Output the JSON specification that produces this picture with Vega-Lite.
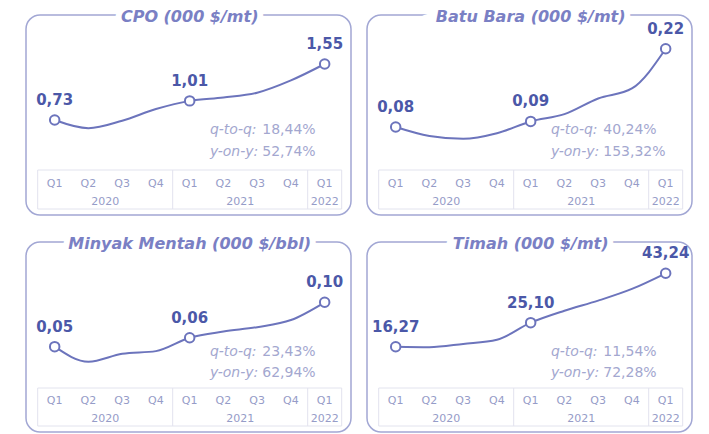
{
  "$schema": "https://vega.github.io/schema/vega-lite/v6.json",
  "background": "white",
  "padding": {"left": 25, "top": 8, "right": 0, "bottom": 0},
  "bounds": "flush",
  "columns": 2,
  "spacing": {"row": 27, "column": 16},
  "datasets": {
    "prices": [
      {"commodity": "CPO", "t": 0, "q": "Q1", "year": "2020", "v": 0.73},
      {"commodity": "CPO", "t": 1, "q": "Q2", "year": "2020", "v": 0.61},
      {"commodity": "CPO", "t": 2, "q": "Q3", "year": "2020", "v": 0.72},
      {"commodity": "CPO", "t": 3, "q": "Q4", "year": "2020", "v": 0.89},
      {"commodity": "CPO", "t": 4, "q": "Q1", "year": "2021", "v": 1.01},
      {"commodity": "CPO", "t": 5, "q": "Q2", "year": "2021", "v": 1.06},
      {"commodity": "CPO", "t": 6, "q": "Q3", "year": "2021", "v": 1.13},
      {"commodity": "CPO", "t": 7, "q": "Q4", "year": "2021", "v": 1.31},
      {"commodity": "CPO", "t": 8, "q": "Q1", "year": "2022", "v": 1.55},
      {"commodity": "Coal", "t": 0, "q": "Q1", "year": "2020", "v": 0.08},
      {"commodity": "Coal", "t": 1, "q": "Q2", "year": "2020", "v": 0.064},
      {"commodity": "Coal", "t": 2, "q": "Q3", "year": "2020", "v": 0.059},
      {"commodity": "Coal", "t": 3, "q": "Q4", "year": "2020", "v": 0.069},
      {"commodity": "Coal", "t": 4, "q": "Q1", "year": "2021", "v": 0.09},
      {"commodity": "Coal", "t": 5, "q": "Q2", "year": "2021", "v": 0.103},
      {"commodity": "Coal", "t": 6, "q": "Q3", "year": "2021", "v": 0.131},
      {"commodity": "Coal", "t": 7, "q": "Q4", "year": "2021", "v": 0.149},
      {"commodity": "Coal", "t": 8, "q": "Q1", "year": "2022", "v": 0.22},
      {"commodity": "Oil", "t": 0, "q": "Q1", "year": "2020", "v": 0.05},
      {"commodity": "Oil", "t": 1, "q": "Q2", "year": "2020", "v": 0.033},
      {"commodity": "Oil", "t": 2, "q": "Q3", "year": "2020", "v": 0.042},
      {"commodity": "Oil", "t": 3, "q": "Q4", "year": "2020", "v": 0.045},
      {"commodity": "Oil", "t": 4, "q": "Q1", "year": "2021", "v": 0.06},
      {"commodity": "Oil", "t": 5, "q": "Q2", "year": "2021", "v": 0.067},
      {"commodity": "Oil", "t": 6, "q": "Q3", "year": "2021", "v": 0.072},
      {"commodity": "Oil", "t": 7, "q": "Q4", "year": "2021", "v": 0.08},
      {"commodity": "Oil", "t": 8, "q": "Q1", "year": "2022", "v": 0.10},
      {"commodity": "Tin", "t": 0, "q": "Q1", "year": "2020", "v": 16.27},
      {"commodity": "Tin", "t": 1, "q": "Q2", "year": "2020", "v": 16.1},
      {"commodity": "Tin", "t": 2, "q": "Q3", "year": "2020", "v": 17.3},
      {"commodity": "Tin", "t": 3, "q": "Q4", "year": "2020", "v": 18.8},
      {"commodity": "Tin", "t": 4, "q": "Q1", "year": "2021", "v": 25.10},
      {"commodity": "Tin", "t": 5, "q": "Q2", "year": "2021", "v": 29.5},
      {"commodity": "Tin", "t": 6, "q": "Q3", "year": "2021", "v": 33.2},
      {"commodity": "Tin", "t": 7, "q": "Q4", "year": "2021", "v": 37.5},
      {"commodity": "Tin", "t": 8, "q": "Q1", "year": "2022", "v": 43.24}
    ],
    "growth": [
      {"commodity": "CPO", "metric": "q-to-q:", "pct": 0.1844},
      {"commodity": "CPO", "metric": "y-on-y:", "pct": 0.5274},
      {"commodity": "Coal", "metric": "q-to-q:", "pct": 0.4024},
      {"commodity": "Coal", "metric": "y-on-y:", "pct": 1.5332},
      {"commodity": "Oil", "metric": "q-to-q:", "pct": 0.2343},
      {"commodity": "Oil", "metric": "y-on-y:", "pct": 0.6294},
      {"commodity": "Tin", "metric": "q-to-q:", "pct": 0.1154},
      {"commodity": "Tin", "metric": "y-on-y:", "pct": 0.7228}
    ]
  },
  "concat": [
    {
      "width": 325, "height": 200,
      "resolve": {"scale": {"y": "independent"}},
      "layer": [
        {
          "data": {"name": "prices"},
          "transform": [{"filter": "datum.commodity === 'CPO'"}],
          "layer": [
            {"transform": [{"aggregate": [{"op": "min", "field": "t", "as": "first"}, {"op": "max", "field": "t", "as": "last"}]}],
             "mark": {"type": "rect", "filled": false, "stroke": "#e2e3ee", "strokeWidth": 1, "xOffset": -17, "x2Offset": 17},
             "encoding": {"x": {"field": "first", "type": "quantitative", "scale": {"domain": [-0.85, 8.78], "nice": false, "zero": false}, "axis": null}, "x2": {"field": "last"},
               "y": {"datum": 6, "type": "quantitative", "scale": {"domain": [0, 200], "nice": false, "zero": false}, "axis": null}, "y2": {"datum": 45}}},
            {"transform": [{"filter": "datum.q === 'Q1' && datum.t > 0"}],
             "mark": {"type": "rule", "color": "#e2e3ee", "strokeWidth": 1, "xOffset": -17},
             "encoding": {"x": {"field": "t", "type": "quantitative", "axis": null},
               "y": {"datum": 6, "type": "quantitative", "scale": {"domain": [0, 200], "nice": false, "zero": false}, "axis": null}, "y2": {"datum": 45}}},
            {"mark": {"type": "text", "fontSize": 11, "color": "#969cc8", "baseline": "middle"},
             "encoding": {"x": {"field": "t", "type": "quantitative", "axis": null},
               "y": {"datum": 31.5, "type": "quantitative", "scale": {"domain": [0, 200], "nice": false, "zero": false}, "axis": null}, "text": {"field": "q"}}},
            {"transform": [{"aggregate": [{"op": "mean", "field": "t", "as": "mid"}], "groupby": ["year"]}],
             "mark": {"type": "text", "fontSize": 11, "color": "#969cc8", "baseline": "middle"},
             "encoding": {"x": {"field": "mid", "type": "quantitative", "axis": null},
               "y": {"datum": 13.5, "type": "quantitative", "scale": {"domain": [0, 200], "nice": false, "zero": false}, "axis": null}, "text": {"field": "year"}}},
            {"transform": [{"aggregate": [{"op": "mean", "field": "t", "as": "mid"}]}],
             "mark": {"type": "text", "fontSize": 16, "fontWeight": "bold", "fontStyle": "italic", "baseline": "middle", "dy": 2, "fill": "white", "stroke": "white", "strokeWidth": 12},
             "encoding": {"x": {"field": "mid", "type": "quantitative", "axis": null},
               "y": {"datum": 200, "type": "quantitative", "scale": {"domain": [0, 200], "nice": false, "zero": false}, "axis": null}, "text": {"value": "  CPO (000 $/mt)  "}}},
            {"transform": [{"aggregate": [{"op": "mean", "field": "t", "as": "mid"}]}],
             "mark": {"type": "text", "fontSize": 16, "fontWeight": "bold", "fontStyle": "italic", "baseline": "middle", "dy": 2, "color": "#7a80c4"},
             "encoding": {"x": {"field": "mid", "type": "quantitative", "axis": null},
               "y": {"datum": 200, "type": "quantitative", "scale": {"domain": [0, 200], "nice": false, "zero": false}, "axis": null}, "text": {"value": "CPO (000 $/mt)"}}}
          ]
        },
        {
          "data": {"name": "growth"},
          "transform": [{"filter": "datum.commodity === 'CPO'"}],
          "encoding": {"y": {"field": "metric", "type": "nominal", "scale": {"type": "point", "domain": ["q-to-q:", "y-on-y:"], "range": [115, 137], "padding": 0}, "axis": null}},
          "layer": [
            {"mark": {"type": "text", "align": "left", "baseline": "middle", "fontSize": 14, "fontStyle": "italic", "color": "#a3a7cf"},
             "encoding": {"x": {"datum": 4.6, "type": "quantitative", "axis": null}, "text": {"field": "metric"}}},
            {"mark": {"type": "text", "align": "left", "baseline": "middle", "fontSize": 14, "color": "#a3a7cf"},
             "encoding": {"x": {"datum": 6.15, "type": "quantitative", "axis": null}, "text": {"field": "pct", "format": ".2%"}}}
          ]
        },
        {
          "data": {"name": "prices"},
          "transform": [{"filter": "datum.commodity === 'CPO'"}],
          "encoding": {
            "x": {"field": "t", "type": "quantitative", "scale": {"domain": [-0.85, 8.78], "nice": false, "zero": false}, "axis": null},
            "y": {"field": "v", "type": "quantitative", "scale": {"domain": [-0.661, 2.2675], "nice": false, "zero": false}, "axis": null}
          },
          "layer": [
            {"mark": {"type": "line", "interpolate": "monotone", "color": "#6c74bc", "strokeWidth": 2}},
            {"transform": [{"filter": "datum.q === 'Q1'"}],
             "mark": {"type": "point", "filled": true, "fill": "white", "stroke": "#6c74bc", "strokeWidth": 2, "size": 90, "opacity": 1}},
            {"transform": [{"filter": "datum.q === 'Q1'"}],
             "mark": {"type": "text", "dy": -15, "baseline": "alphabetic", "fontSize": 15, "fontWeight": "bold", "color": "#4b58a8"},
             "encoding": {"text": {"field": "v", "format": ".2f"}}}
          ]
        }
      ]
    },
    {
      "width": 325, "height": 200,
      "resolve": {"scale": {"y": "independent"}},
      "layer": [
        {
          "data": {"name": "prices"},
          "transform": [{"filter": "datum.commodity === 'Coal'"}],
          "layer": [
            {"transform": [{"aggregate": [{"op": "min", "field": "t", "as": "first"}, {"op": "max", "field": "t", "as": "last"}]}],
             "mark": {"type": "rect", "filled": false, "stroke": "#e2e3ee", "strokeWidth": 1, "xOffset": -17, "x2Offset": 17},
             "encoding": {"x": {"field": "first", "type": "quantitative", "scale": {"domain": [-0.85, 8.78], "nice": false, "zero": false}, "axis": null}, "x2": {"field": "last"},
               "y": {"datum": 6, "type": "quantitative", "scale": {"domain": [0, 200], "nice": false, "zero": false}, "axis": null}, "y2": {"datum": 45}}},
            {"transform": [{"filter": "datum.q === 'Q1' && datum.t > 0"}],
             "mark": {"type": "rule", "color": "#e2e3ee", "strokeWidth": 1, "xOffset": -17},
             "encoding": {"x": {"field": "t", "type": "quantitative", "axis": null},
               "y": {"datum": 6, "type": "quantitative", "scale": {"domain": [0, 200], "nice": false, "zero": false}, "axis": null}, "y2": {"datum": 45}}},
            {"mark": {"type": "text", "fontSize": 11, "color": "#969cc8", "baseline": "middle"},
             "encoding": {"x": {"field": "t", "type": "quantitative", "axis": null},
               "y": {"datum": 31.5, "type": "quantitative", "scale": {"domain": [0, 200], "nice": false, "zero": false}, "axis": null}, "text": {"field": "q"}}},
            {"transform": [{"aggregate": [{"op": "mean", "field": "t", "as": "mid"}], "groupby": ["year"]}],
             "mark": {"type": "text", "fontSize": 11, "color": "#969cc8", "baseline": "middle"},
             "encoding": {"x": {"field": "mid", "type": "quantitative", "axis": null},
               "y": {"datum": 13.5, "type": "quantitative", "scale": {"domain": [0, 200], "nice": false, "zero": false}, "axis": null}, "text": {"field": "year"}}},
            {"transform": [{"aggregate": [{"op": "mean", "field": "t", "as": "mid"}]}],
             "mark": {"type": "text", "fontSize": 16, "fontWeight": "bold", "fontStyle": "italic", "baseline": "middle", "dy": 2, "fill": "white", "stroke": "white", "strokeWidth": 12},
             "encoding": {"x": {"field": "mid", "type": "quantitative", "axis": null},
               "y": {"datum": 200, "type": "quantitative", "scale": {"domain": [0, 200], "nice": false, "zero": false}, "axis": null}, "text": {"value": "  Batu Bara (000 $/mt)  "}}},
            {"transform": [{"aggregate": [{"op": "mean", "field": "t", "as": "mid"}]}],
             "mark": {"type": "text", "fontSize": 16, "fontWeight": "bold", "fontStyle": "italic", "baseline": "middle", "dy": 2, "color": "#7a80c4"},
             "encoding": {"x": {"field": "mid", "type": "quantitative", "axis": null},
               "y": {"datum": 200, "type": "quantitative", "scale": {"domain": [0, 200], "nice": false, "zero": false}, "axis": null}, "text": {"value": "Batu Bara (000 $/mt)"}}}
          ]
        },
        {
          "data": {"name": "growth"},
          "transform": [{"filter": "datum.commodity === 'Coal'"}],
          "encoding": {"y": {"field": "metric", "type": "nominal", "scale": {"type": "point", "domain": ["q-to-q:", "y-on-y:"], "range": [115, 137], "padding": 0}, "axis": null}},
          "layer": [
            {"mark": {"type": "text", "align": "left", "baseline": "middle", "fontSize": 14, "fontStyle": "italic", "color": "#a3a7cf"},
             "encoding": {"x": {"datum": 4.6, "type": "quantitative", "axis": null}, "text": {"field": "metric"}}},
            {"mark": {"type": "text", "align": "left", "baseline": "middle", "fontSize": 14, "color": "#a3a7cf"},
             "encoding": {"x": {"datum": 6.15, "type": "quantitative", "axis": null}, "text": {"field": "pct", "format": ".2%"}}}
          ]
        },
        {
          "data": {"name": "prices"},
          "transform": [{"filter": "datum.commodity === 'Coal'"}],
          "encoding": {
            "x": {"field": "t", "type": "quantitative", "scale": {"domain": [-0.85, 8.78], "nice": false, "zero": false}, "axis": null},
            "y": {"field": "v", "type": "quantitative", "scale": {"domain": [-0.0773, 0.2803], "nice": false, "zero": false}, "axis": null}
          },
          "layer": [
            {"mark": {"type": "line", "interpolate": "monotone", "color": "#6c74bc", "strokeWidth": 2}},
            {"transform": [{"filter": "datum.q === 'Q1'"}],
             "mark": {"type": "point", "filled": true, "fill": "white", "stroke": "#6c74bc", "strokeWidth": 2, "size": 90, "opacity": 1}},
            {"transform": [{"filter": "datum.q === 'Q1'"}],
             "mark": {"type": "text", "dy": -15, "baseline": "alphabetic", "fontSize": 15, "fontWeight": "bold", "color": "#4b58a8"},
             "encoding": {"text": {"field": "v", "format": ".2f"}}}
          ]
        }
      ]
    },
    {
      "width": 325, "height": 190,
      "resolve": {"scale": {"y": "independent"}},
      "layer": [
        {
          "data": {"name": "prices"},
          "transform": [{"filter": "datum.commodity === 'Oil'"}],
          "layer": [
            {"transform": [{"aggregate": [{"op": "min", "field": "t", "as": "first"}, {"op": "max", "field": "t", "as": "last"}]}],
             "mark": {"type": "rect", "filled": false, "stroke": "#e2e3ee", "strokeWidth": 1, "xOffset": -17, "x2Offset": 17},
             "encoding": {"x": {"field": "first", "type": "quantitative", "scale": {"domain": [-0.85, 8.78], "nice": false, "zero": false}, "axis": null}, "x2": {"field": "last"},
               "y": {"datum": 6, "type": "quantitative", "scale": {"domain": [0, 190], "nice": false, "zero": false}, "axis": null}, "y2": {"datum": 44}}},
            {"transform": [{"filter": "datum.q === 'Q1' && datum.t > 0"}],
             "mark": {"type": "rule", "color": "#e2e3ee", "strokeWidth": 1, "xOffset": -17},
             "encoding": {"x": {"field": "t", "type": "quantitative", "axis": null},
               "y": {"datum": 6, "type": "quantitative", "scale": {"domain": [0, 190], "nice": false, "zero": false}, "axis": null}, "y2": {"datum": 44}}},
            {"mark": {"type": "text", "fontSize": 11, "color": "#969cc8", "baseline": "middle"},
             "encoding": {"x": {"field": "t", "type": "quantitative", "axis": null},
               "y": {"datum": 31, "type": "quantitative", "scale": {"domain": [0, 190], "nice": false, "zero": false}, "axis": null}, "text": {"field": "q"}}},
            {"transform": [{"aggregate": [{"op": "mean", "field": "t", "as": "mid"}], "groupby": ["year"]}],
             "mark": {"type": "text", "fontSize": 11, "color": "#969cc8", "baseline": "middle"},
             "encoding": {"x": {"field": "mid", "type": "quantitative", "axis": null},
               "y": {"datum": 13, "type": "quantitative", "scale": {"domain": [0, 190], "nice": false, "zero": false}, "axis": null}, "text": {"field": "year"}}},
            {"transform": [{"aggregate": [{"op": "mean", "field": "t", "as": "mid"}]}],
             "mark": {"type": "text", "fontSize": 16, "fontWeight": "bold", "fontStyle": "italic", "baseline": "middle", "dy": 2, "fill": "white", "stroke": "white", "strokeWidth": 12},
             "encoding": {"x": {"field": "mid", "type": "quantitative", "axis": null},
               "y": {"datum": 190, "type": "quantitative", "scale": {"domain": [0, 190], "nice": false, "zero": false}, "axis": null}, "text": {"value": "  Minyak Mentah (000 $/bbl)  "}}},
            {"transform": [{"aggregate": [{"op": "mean", "field": "t", "as": "mid"}]}],
             "mark": {"type": "text", "fontSize": 16, "fontWeight": "bold", "fontStyle": "italic", "baseline": "middle", "dy": 2, "color": "#7a80c4"},
             "encoding": {"x": {"field": "mid", "type": "quantitative", "axis": null},
               "y": {"datum": 190, "type": "quantitative", "scale": {"domain": [0, 190], "nice": false, "zero": false}, "axis": null}, "text": {"value": "Minyak Mentah (000 $/bbl)"}}}
          ]
        },
        {
          "data": {"name": "growth"},
          "transform": [{"filter": "datum.commodity === 'Oil'"}],
          "encoding": {"y": {"field": "metric", "type": "nominal", "scale": {"type": "point", "domain": ["q-to-q:", "y-on-y:"], "range": [110, 131], "padding": 0}, "axis": null}},
          "layer": [
            {"mark": {"type": "text", "align": "left", "baseline": "middle", "fontSize": 14, "fontStyle": "italic", "color": "#a3a7cf"},
             "encoding": {"x": {"datum": 4.6, "type": "quantitative", "axis": null}, "text": {"field": "metric"}}},
            {"mark": {"type": "text", "align": "left", "baseline": "middle", "fontSize": 14, "color": "#a3a7cf"},
             "encoding": {"x": {"datum": 6.15, "type": "quantitative", "axis": null}, "text": {"field": "pct", "format": ".2%"}}}
          ]
        },
        {
          "data": {"name": "prices"},
          "transform": [{"filter": "datum.commodity === 'Oil'"}],
          "encoding": {
            "x": {"field": "t", "type": "quantitative", "scale": {"domain": [-0.85, 8.78], "nice": false, "zero": false}, "axis": null},
            "y": {"field": "v", "type": "quantitative", "scale": {"domain": [-0.0461, 0.1679], "nice": false, "zero": false}, "axis": null}
          },
          "layer": [
            {"mark": {"type": "line", "interpolate": "monotone", "color": "#6c74bc", "strokeWidth": 2}},
            {"transform": [{"filter": "datum.q === 'Q1'"}],
             "mark": {"type": "point", "filled": true, "fill": "white", "stroke": "#6c74bc", "strokeWidth": 2, "size": 90, "opacity": 1}},
            {"transform": [{"filter": "datum.q === 'Q1'"}],
             "mark": {"type": "text", "dy": -15, "baseline": "alphabetic", "fontSize": 15, "fontWeight": "bold", "color": "#4b58a8"},
             "encoding": {"text": {"field": "v", "format": ".2f"}}}
          ]
        }
      ]
    },
    {
      "width": 325, "height": 190,
      "resolve": {"scale": {"y": "independent"}},
      "layer": [
        {
          "data": {"name": "prices"},
          "transform": [{"filter": "datum.commodity === 'Tin'"}],
          "layer": [
            {"transform": [{"aggregate": [{"op": "min", "field": "t", "as": "first"}, {"op": "max", "field": "t", "as": "last"}]}],
             "mark": {"type": "rect", "filled": false, "stroke": "#e2e3ee", "strokeWidth": 1, "xOffset": -17, "x2Offset": 17},
             "encoding": {"x": {"field": "first", "type": "quantitative", "scale": {"domain": [-0.85, 8.78], "nice": false, "zero": false}, "axis": null}, "x2": {"field": "last"},
               "y": {"datum": 6, "type": "quantitative", "scale": {"domain": [0, 190], "nice": false, "zero": false}, "axis": null}, "y2": {"datum": 44}}},
            {"transform": [{"filter": "datum.q === 'Q1' && datum.t > 0"}],
             "mark": {"type": "rule", "color": "#e2e3ee", "strokeWidth": 1, "xOffset": -17},
             "encoding": {"x": {"field": "t", "type": "quantitative", "axis": null},
               "y": {"datum": 6, "type": "quantitative", "scale": {"domain": [0, 190], "nice": false, "zero": false}, "axis": null}, "y2": {"datum": 44}}},
            {"mark": {"type": "text", "fontSize": 11, "color": "#969cc8", "baseline": "middle"},
             "encoding": {"x": {"field": "t", "type": "quantitative", "axis": null},
               "y": {"datum": 31, "type": "quantitative", "scale": {"domain": [0, 190], "nice": false, "zero": false}, "axis": null}, "text": {"field": "q"}}},
            {"transform": [{"aggregate": [{"op": "mean", "field": "t", "as": "mid"}], "groupby": ["year"]}],
             "mark": {"type": "text", "fontSize": 11, "color": "#969cc8", "baseline": "middle"},
             "encoding": {"x": {"field": "mid", "type": "quantitative", "axis": null},
               "y": {"datum": 13, "type": "quantitative", "scale": {"domain": [0, 190], "nice": false, "zero": false}, "axis": null}, "text": {"field": "year"}}},
            {"transform": [{"aggregate": [{"op": "mean", "field": "t", "as": "mid"}]}],
             "mark": {"type": "text", "fontSize": 16, "fontWeight": "bold", "fontStyle": "italic", "baseline": "middle", "dy": 2, "fill": "white", "stroke": "white", "strokeWidth": 12},
             "encoding": {"x": {"field": "mid", "type": "quantitative", "axis": null},
               "y": {"datum": 190, "type": "quantitative", "scale": {"domain": [0, 190], "nice": false, "zero": false}, "axis": null}, "text": {"value": "  Timah (000 $/mt)  "}}},
            {"transform": [{"aggregate": [{"op": "mean", "field": "t", "as": "mid"}]}],
             "mark": {"type": "text", "fontSize": 16, "fontWeight": "bold", "fontStyle": "italic", "baseline": "middle", "dy": 2, "color": "#7a80c4"},
             "encoding": {"x": {"field": "mid", "type": "quantitative", "axis": null},
               "y": {"datum": 190, "type": "quantitative", "scale": {"domain": [0, 190], "nice": false, "zero": false}, "axis": null}, "text": {"value": "Timah (000 $/mt)"}}}
          ]
        },
        {
          "data": {"name": "growth"},
          "transform": [{"filter": "datum.commodity === 'Tin'"}],
          "encoding": {"y": {"field": "metric", "type": "nominal", "scale": {"type": "point", "domain": ["q-to-q:", "y-on-y:"], "range": [110, 131], "padding": 0}, "axis": null}},
          "layer": [
            {"mark": {"type": "text", "align": "left", "baseline": "middle", "fontSize": 14, "fontStyle": "italic", "color": "#a3a7cf"},
             "encoding": {"x": {"datum": 4.6, "type": "quantitative", "axis": null}, "text": {"field": "metric"}}},
            {"mark": {"type": "text", "align": "left", "baseline": "middle", "fontSize": 14, "color": "#a3a7cf"},
             "encoding": {"x": {"datum": 6.15, "type": "quantitative", "axis": null}, "text": {"field": "pct", "format": ".2%"}}}
          ]
        },
        {
          "data": {"name": "prices"},
          "transform": [{"filter": "datum.commodity === 'Tin'"}],
          "encoding": {
            "x": {"field": "t", "type": "quantitative", "scale": {"domain": [-0.85, 8.78], "nice": false, "zero": false}, "axis": null},
            "y": {"field": "v", "type": "quantitative", "scale": {"domain": [-15.07, 54.74], "nice": false, "zero": false}, "axis": null}
          },
          "layer": [
            {"mark": {"type": "line", "interpolate": "monotone", "color": "#6c74bc", "strokeWidth": 2}},
            {"transform": [{"filter": "datum.q === 'Q1'"}],
             "mark": {"type": "point", "filled": true, "fill": "white", "stroke": "#6c74bc", "strokeWidth": 2, "size": 90, "opacity": 1}},
            {"transform": [{"filter": "datum.q === 'Q1'"}],
             "mark": {"type": "text", "dy": -15, "baseline": "alphabetic", "fontSize": 15, "fontWeight": "bold", "color": "#4b58a8"},
             "encoding": {"text": {"field": "v", "format": ".2f"}}}
          ]
        }
      ]
    }
  ],
  "config": {
    "view": {"stroke": "#a2a7d4", "strokeWidth": 1.5, "cornerRadius": 14},
    "locale": {"number": {"decimal": ",", "thousands": ".", "grouping": [3], "currency": ["", ""]}},
    "text": {"font": "DejaVu Sans"}
  }
}
